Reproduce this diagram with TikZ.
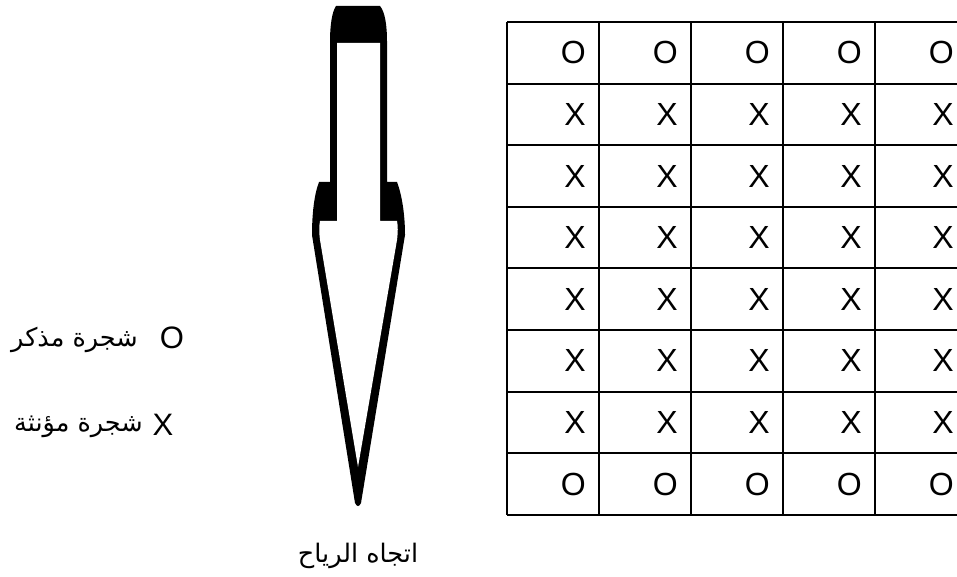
\documentclass[tikz,border=0pt]{standalone}
\usepackage{fontspec}
\setmainfont{Liberation Sans}
\newfontfamily\arabicfont[Script=Arabic]{DejaVu Sans}
\TeXXeTstate=1

\begin{document}
\begin{tikzpicture}[x=1pt, y=-1pt,
    every node/.style={inner sep=0pt},
    cellmark/.style={anchor=east, font=\fontsize{32}{36}\selectfont},
    legendmark/.style={font=\fontsize{31}{36}\selectfont},
    arabic/.style={font=\arabicfont\fontsize{25.5}{30}\selectfont}]
    \useasboundingbox (0,0) rectangle (957,577);
    \clip (0,0) rectangle (957,577);

    % wind arrow
    \fill[black] (336,6) -- (380,6) .. controls (385,12) and (387,25) .. (387,42)
        -- (387,182) -- (397,182) .. controls (402,195) and (405,215) .. (405,235)
        -- (361,503) .. controls (359,507) and (357,507) .. (355,503)
        -- (312,235) .. controls (312,215) and (314,195) .. (319,182)
        -- (330,182) -- (330,42) .. controls (330,25) and (332,12) .. (336,6) -- cycle;
    \fill[white] (337,43) -- (380,43) -- (380,221) -- (397,221)
        .. controls (398,226) and (398,232) .. (397,240) -- (358,467)
        -- (320,240) .. controls (319,232) and (319,226) .. (320,221)
        -- (337,221) -- cycle;
    \node[arabic] (wind) at (358,556) {\beginR اتجاه الرياح\endR};

    % grid
    \foreach \r in {0,...,8}
        \draw[line width=2pt] (507,22+61.6*\r) -- (967,22+61.6*\r);
    \foreach \c in {0,...,5}
        \draw[line width=2pt] (507+92*\c,22) -- (507+92*\c,515);

    % trees
    \foreach \r in {1,...,8} {
        \foreach \c in {1,...,5} {
            \ifnum\r=1 \def\tree{O}\else\ifnum\r=8 \def\tree{O}\else\def\tree{X}\fi\fi
            \node[cellmark] (cell-\r-\c) at (507+92*\c-13,22+61.6*\r-30.8) {\tree};
        }
    }

    % legend
    \node[legendmark] (male) at (172,338) {O};
    \node[arabic, anchor=east] (male-text) at (138,340) {\beginR شجرة مذكر\endR};
    \node[legendmark] (female) at (163,425) {X};
    \node[arabic, anchor=east] (female-text) at (143,427) {\beginR شجرة مؤنثة\endR};
\end{tikzpicture}
\end{document}
